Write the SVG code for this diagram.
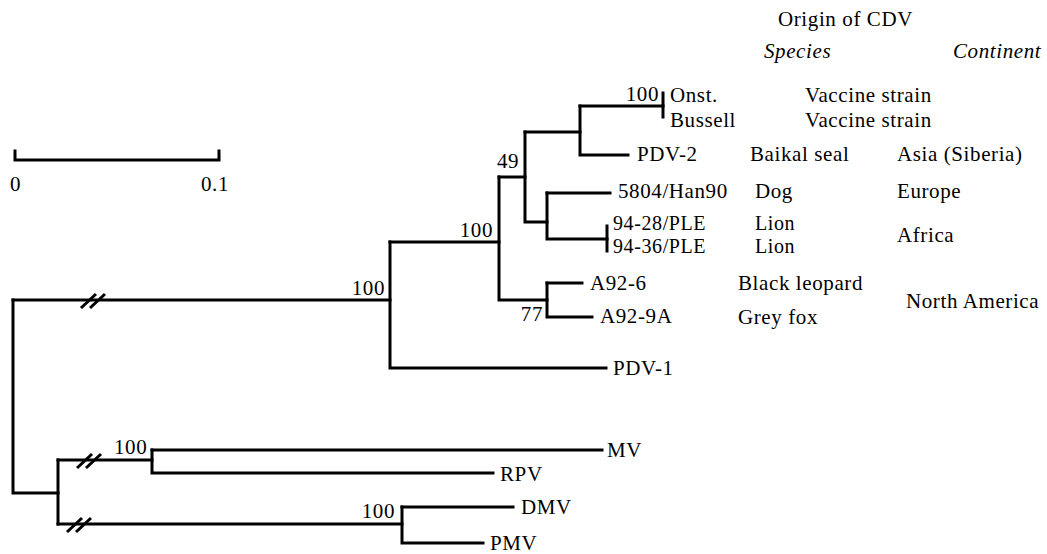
<svg xmlns="http://www.w3.org/2000/svg" width="1047" height="554" viewBox="0 0 1047 554">
<style>
.t{font-family:"Liberation Serif","Times New Roman",serif;font-size:21px;fill:#000;letter-spacing:0.6px}
.s{font-size:20px}
.i{font-style:italic}
.e{text-anchor:end}
.br{fill:none;stroke:#000;stroke-width:3;stroke-linecap:square;stroke-linejoin:miter}
.bk{fill:none;stroke:#000;stroke-width:3}
</style>
<rect width="1047" height="554" fill="#fff"/>
<g id="header">
<text class="t" x="778" y="26">Origin of CDV</text>
<text class="t i" x="764" y="58">Species</text>
<text class="t i" x="953" y="58">Continent</text>
</g>
<g id="scalebar">
<path class="br" d="M15,151 V160 H219 V151"/>
<text class="t" x="10" y="191">0</text>
<text class="t" x="201" y="191">0.1</text>
</g>
<g id="connectors">
<path class="br" d="M13,300 H390"/>
<path class="br" d="M13,300 V493 H58"/>
<path class="br" d="M58,460 V524"/>
<path class="br" d="M58,460 H152"/>
<path class="br" d="M58,524 H402"/>
<path class="br" d="M390,242 V368 H606"/>
<path class="br" d="M390,242 H499"/>
<path class="br" d="M499,177 V300 H547"/>
<path class="br" d="M499,177 H525"/>
<path class="br" d="M525,132 V222 H547"/>
<path class="br" d="M525,132 H580"/>
<path class="br" d="M580,106 V155 H628"/>
<path class="br" d="M580,106 H663"/>
<path class="br" d="M663,93 V117"/>
<path class="br" d="M547,193 V239 H607"/>
<path class="br" d="M547,193 H610"/>
<path class="br" d="M607,226 V251"/>
<path class="br" d="M547,283 V317 H592"/>
<path class="br" d="M547,283 H582"/>
<path class="br" d="M152,450 V473 H493"/>
<path class="br" d="M152,450 H602"/>
<path class="br" d="M402,507 V543 H483"/>
<path class="br" d="M402,507 H513"/>
<path class="bk" d="M81,308 L96,294 M90,308 L105,294"/>
<path class="bk" d="M77,468 L92,454 M86,468 L101,454"/>
<path class="bk" d="M67,532 L82,518 M76,532 L91,518"/>
</g>
<g id="bootstrap">
<text class="t e" x="385" y="295">100</text>
<text class="t e" x="493" y="237">100</text>
<text class="t" x="497" y="168">49</text>
<text class="t e" x="659" y="101">100</text>
<text class="t e" x="543" y="321">77</text>
<text class="t" x="114" y="454">100</text>
<text class="t e" x="395" y="518">100</text>
</g>
<g id="node-onst"><text class="t" x="670" y="102">Onst.</text><text class="t" x="805" y="102">Vaccine strain</text></g>
<g id="node-bussell"><text class="t" x="670" y="127">Bussell</text><text class="t" x="805" y="127">Vaccine strain</text></g>
<g id="node-pdv2"><text class="t" x="637" y="161">PDV-2</text><text class="t" x="750" y="161">Baikal seal</text><text class="t" x="897" y="161">Asia (Siberia)</text></g>
<g id="node-5804"><text class="t" x="618" y="198">5804/Han90</text><text class="t" x="755" y="198">Dog</text><text class="t" x="897" y="198">Europe</text></g>
<g id="node-9428"><text class="t s" x="613" y="230">94-28/PLE</text><text class="t s" x="755" y="230">Lion</text></g>
<g id="node-9436"><text class="t s" x="613" y="253">94-36/PLE</text><text class="t s" x="755" y="253">Lion</text></g>
<g id="africa"><text class="t" x="897" y="242">Africa</text></g>
<g id="node-a926"><text class="t" x="590" y="290">A92-6</text><text class="t" x="738" y="290">Black leopard</text></g>
<g id="node-a929a"><text class="t" x="600" y="323">A92-9A</text><text class="t" x="738" y="324">Grey fox</text></g>
<g id="northamerica"><text class="t" x="906" y="308">North America</text></g>
<g id="node-pdv1"><text class="t" x="613" y="375">PDV-1</text></g>
<g id="node-mv"><text class="t" x="607" y="457">MV</text></g>
<g id="node-rpv"><text class="t" x="500" y="481">RPV</text></g>
<g id="node-dmv"><text class="t" x="521" y="514">DMV</text></g>
<g id="node-pmv"><text class="t" x="490" y="550">PMV</text></g>
</svg>
